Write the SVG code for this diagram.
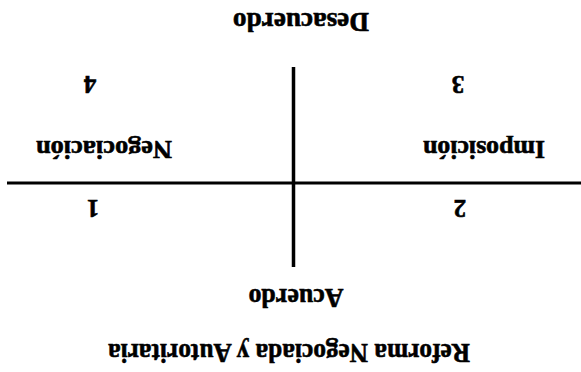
<svg xmlns="http://www.w3.org/2000/svg" width="581" height="372" viewBox="0 0 581 372">
<style>
text{font-family:"Liberation Serif","Times New Roman",serif;font-weight:bold;fill:#000;stroke:#000;stroke-width:0.6;text-anchor:middle}
.big{font-size:28px}
.mid{font-size:25px}
.num{font-size:25px}
.axis{stroke:#000;fill:none}
</style>
<rect width="581" height="372" fill="#fff"/>
<g id="connectors">
<line class="axis" x1="293.5" y1="67" x2="293.5" y2="267" stroke-width="3.5"/>
<line class="axis" x1="7" y1="183" x2="581" y2="183" stroke-width="3"/>
</g>
<g id="desacuerdo"><text class="big" x="301" y="13" textLength="136" lengthAdjust="spacingAndGlyphs" transform="rotate(180 301 13)">Desacuerdo</text></g>
<g id="q4"><text class="num" x="90" y="76" transform="rotate(180 90 76)">4</text></g>
<g id="q3"><text class="num" x="458" y="76" transform="rotate(180 458 76)">3</text></g>
<g id="negociacion"><text class="mid" x="104" y="141" textLength="136" lengthAdjust="spacingAndGlyphs" transform="rotate(180 104 141)">Negociación</text></g>
<g id="imposicion"><text class="mid" x="484" y="141" textLength="122" lengthAdjust="spacingAndGlyphs" transform="rotate(180 484 141)">Imposición</text></g>
<g id="q1"><text class="num" x="93" y="200" transform="rotate(180 93 200)">1</text></g>
<g id="q2"><text class="num" x="460" y="200" transform="rotate(180 460 200)">2</text></g>
<g id="acuerdo"><text class="big" x="296" y="289" textLength="95" lengthAdjust="spacingAndGlyphs" transform="rotate(180 296 289)">Acuerdo</text></g>
<g id="title"><text class="big" x="289" y="344" textLength="362" lengthAdjust="spacingAndGlyphs" transform="rotate(180 289 344)">Reforma Negociada y Autoritaria</text></g>
</svg>
